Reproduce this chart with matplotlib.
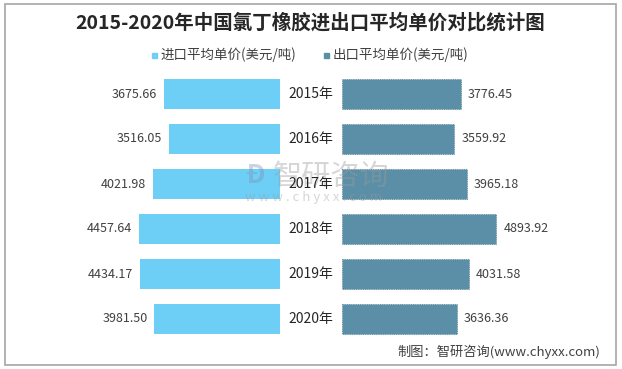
import matplotlib.pyplot as plt
from matplotlib.patches import Rectangle

plt.rcParams['font.family'] = ['Noto Sans CJK SC', 'DejaVu Sans']

# 数据
years = ['2015年', '2016年', '2017年', '2018年', '2019年', '2020年']
import_price = [3675.66, 3516.05, 4021.98, 4457.64, 4434.17, 3981.50]
export_price = [3776.45, 3559.92, 3965.18, 4893.92, 4031.58, 3636.36]

title = '2015-2020年中国氯丁橡胶进出口平均单价对比统计图'
label_import = '进口平均单价(美元/吨)'
label_export = '出口平均单价(美元/吨)'
source = '制图：智研咨询(www.chyxx.com)'

c_import = '#6DCFF6'
c_export = '#5B8FA7'

W, H = 622, 369
fig = plt.figure(figsize=(W / 100, H / 100), dpi=100)

# 外框
fig.patches.append(Rectangle((5 / W, 4 / H), 611 / W, 361 / H, transform=fig.transFigure,
                             fill=False, edgecolor='#A6A6A6', linewidth=1.2))

xmax = 6971  # 220 px 对应的数值
ax_l = fig.add_axes([60 / W, 1 - 341.5 / H, 220 / W, 270 / H])
ax_r = fig.add_axes([342 / W, 1 - 341.5 / H, 220 / W, 270 / H])
ax_r.set_zorder(2)

ypos = list(range(len(years)))
ax_l.barh(ypos, import_price, height=0.667, color=c_import)
ax_r.barh(ypos, export_price, height=0.667, color=c_export,
          edgecolor='#4F7E94', linewidth=0.6, linestyle=':')

ax_l.set_xlim(xmax, 0)
ax_r.set_xlim(0, xmax)
for ax in (ax_l, ax_r):
    ax.set_ylim(len(years) - 0.5, -0.5)
    ax.axis('off')

# 数值标签
for i, v in enumerate(import_price):
    ax_l.annotate(f'{v:.2f}', (v, i), xytext=(-5, 0), textcoords='offset points',
                  ha='right', va='center', fontsize=9, color='#404040')
for i, v in enumerate(export_price):
    ax_r.annotate(f'{v:.2f}', (v, i), xytext=(5, 0), textcoords='offset points',
                  ha='left', va='center', fontsize=9, color='#404040')

# 水印 (放在右侧坐标轴内, 位于柱子之上、年份之下)
wm = dict(transform=fig.transFigure, ha='center', va='center', alpha=0.4, zorder=3)
ax_r.text(331 / W, 1 - 177 / H, '智研咨询', fontsize=21, color='#9A9A9A', **wm)
ax_r.text(314 / W, 1 - 197 / H, 'w w w . c h y x x . c o m', fontsize=9.5, color='#9A9A9A', **wm)
ax_r.text(255 / W, 1 - 176 / H, 'Đ', fontsize=19, color='#8090B8', fontweight='bold', **wm)

# 年份标签(中间)
for i, y in enumerate(years):
    ax_r.annotate(y, (0, i), xytext=(-22.5, 0), textcoords='offset points',
                  ha='center', va='center', fontsize=10, color='#262626', zorder=5)

# 标题
fig.text(310 / W, 1 - 23 / H, title, ha='center', va='center', fontsize=14,
         fontweight='bold', color='#262626')

# 图例
fig.patches.append(Rectangle((152 / W, 1 - 58 / H), 5 / W, 5 / H, transform=fig.transFigure,
                             color=c_import))
fig.text(161 / W, 1 - 55 / H, label_import, ha='left', va='center', fontsize=9.7, color='#404040')
fig.patches.append(Rectangle((324 / W, 1 - 58 / H), 5 / W, 5 / H, transform=fig.transFigure,
                             color=c_export))
fig.text(333 / W, 1 - 55 / H, label_export, ha='left', va='center', fontsize=9.7, color='#404040')

# 来源
fig.text(600 / W, 1 - 352 / H, source, ha='right', va='center', fontsize=9.5, color='#404040')

fig.savefig('out.png', dpi=100)
